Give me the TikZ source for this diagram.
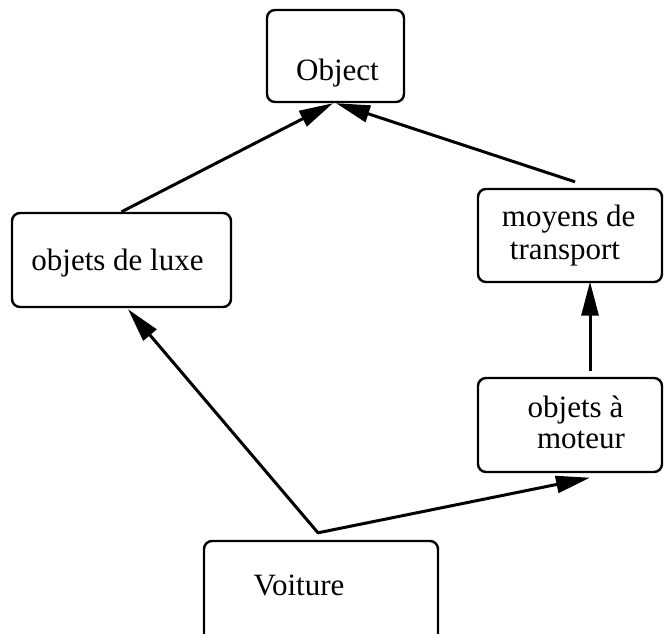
\documentclass[tikz,border=0pt]{standalone}
\usepackage{fontspec}
\setmainfont{Liberation Serif}
\usetikzlibrary{arrows.meta}
\begin{document}
\begin{tikzpicture}[x=1pt,y=-1pt,
  box/.style={draw, line width=2.4pt, rounded corners=8pt, inner sep=0pt},
  lbl/.style={font=\fontsize{31}{32}\selectfont, inner sep=0pt, anchor=base},
  tipshape/.style={},
  conn/.style={line width=3pt, line join=round, -{Triangle[length=34pt,width=17pt]}},
  conn2/.style={line width=3pt, line join=round, {Triangle[length=34pt,width=17pt]}-{Triangle[length=34pt,width=17pt]}}
]
\useasboundingbox (0,0) rectangle (664,633);

% boxes
\node[box, minimum width=137pt, minimum height=92pt] (obj) at (335.5,56) {};
\node[box, minimum width=219pt, minimum height=94pt] (luxe) at (121.5,260) {};
\node[box, minimum width=184pt, minimum height=93pt] (moy) at (570,235.5) {};
\node[box, minimum width=184pt, minimum height=94pt] (mot) at (570,425) {};
\node[box, minimum width=234pt, minimum height=110pt] (voit) at (321,596) {};

% labels
\node[lbl] (tobj) at (337.5,80.7) {Object};
\node[lbl] (tluxe) at (117.5,270) {objets de luxe};
\node[lbl] (tmoy1) at (568.7,226.7) {moyens de};
\node[lbl] (tmoy2) at (565,259.3) {transport};
\node[lbl] (tmot1) at (575.5,417.7) {objets à};
\node[lbl] (tmot2) at (581,448.3) {moteur};
\node[lbl] (tvoit) at (299,595) {Voiture};

% connectors
\coordinate (j) at ([xshift=-3pt,yshift=7pt]voit.north);
\draw[conn] (luxe.north) -- ([xshift=-2.5pt]obj.south);
\draw[conn] ([xshift=5pt,yshift=6pt]moy.north) -- ([xshift=0.5pt]obj.south);
\draw[conn] ([xshift=20pt,yshift=6pt]mot.north) -- ([xshift=20pt,yshift=1.5pt]moy.south);
\draw[conn2] ([xshift=6.5pt,yshift=-1pt]luxe.south) -- (j) -- ([xshift=20pt,yshift=-4.5pt]mot.south);
\end{tikzpicture}
\end{document}
